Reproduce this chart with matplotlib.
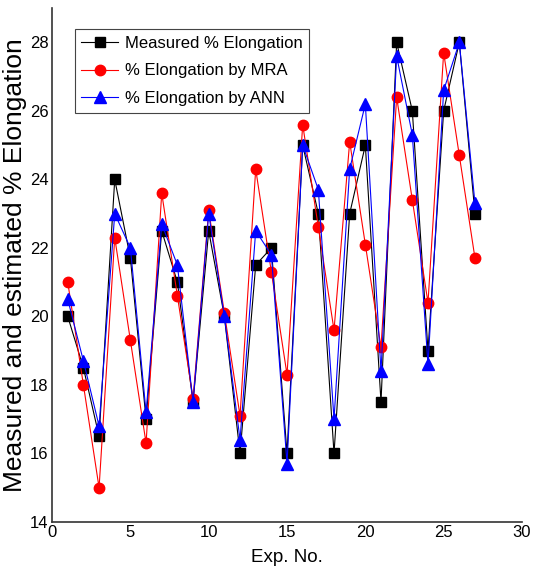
import matplotlib
matplotlib.use('Agg')
import matplotlib.pyplot as plt

exp_no = list(range(1, 28))
measured = [20, 18.5, 16.5, 24, 21.7, 17, 22.5, 21, 17.5, 22.5, 20, 16, 21.5, 22,
            16, 25, 23, 16, 23, 25, 17.5, 28, 26, 19, 26, 28, 23]
mra = [21, 18, 15, 22.3, 19.3, 16.3, 23.6, 20.6, 17.6, 23.1, 20.1, 17.1, 24.3, 21.3,
       18.3, 25.6, 22.6, 19.6, 25.1, 22.1, 19.1, 26.4, 23.4, 20.4, 27.7, 24.7, 21.7]
ann = [20.5, 18.7, 16.8, 23, 22, 17.2, 22.7, 21.5, 17.5, 23, 20, 16.4, 22.5, 21.8,
       15.7, 25, 23.7, 17, 24.3, 26.2, 18.4, 27.6, 25.3, 18.6, 26.6, 28, 23.3]

plt.rcParams['font.family'] = ['Liberation Sans', 'DejaVu Sans']

fig = plt.figure(figsize=(5.37, 5.8), dpi=100)
ax = fig.add_axes([0.097, 0.10, 0.875, 0.886])

ax.plot(exp_no, measured, color='black', lw=0.8, marker='s', ms=6.5,
        label='Measured % Elongation')
ax.plot(exp_no, mra, color='red', lw=0.8, marker='o', ms=7.5,
        label='% Elongation by MRA')
ax.plot(exp_no, ann, color='blue', lw=0.8, marker='^', ms=8,
        label='% Elongation by ANN')

ax.set_xlim(0, 30)
ax.set_ylim(14, 29)
ax.set_xticks(range(0, 31, 5))
ax.set_yticks(range(14, 29, 2))
for s in ['top', 'right']:
    ax.spines[s].set_visible(False)
for s in ['left', 'bottom']:
    ax.spines[s].set_linewidth(1.2)
    ax.spines[s].set_color('#333333')
ax.tick_params(length=0, labelsize=12, pad=2.5)

ax.set_xlabel('Exp. No.', fontsize=13.5, labelpad=6)
ax.set_ylabel('Measured and estimated % Elongation', fontsize=19, labelpad=2)

leg = ax.legend(loc='upper left', bbox_to_anchor=(0.03, 0.975), fontsize=12,
                fancybox=False, edgecolor='#444444', framealpha=1,
                handlelength=2.2, borderpad=0.4, labelspacing=0.75,
                handletextpad=0.4)
leg.get_frame().set_linewidth(0.8)

fig.savefig('out.png', dpi=100)
